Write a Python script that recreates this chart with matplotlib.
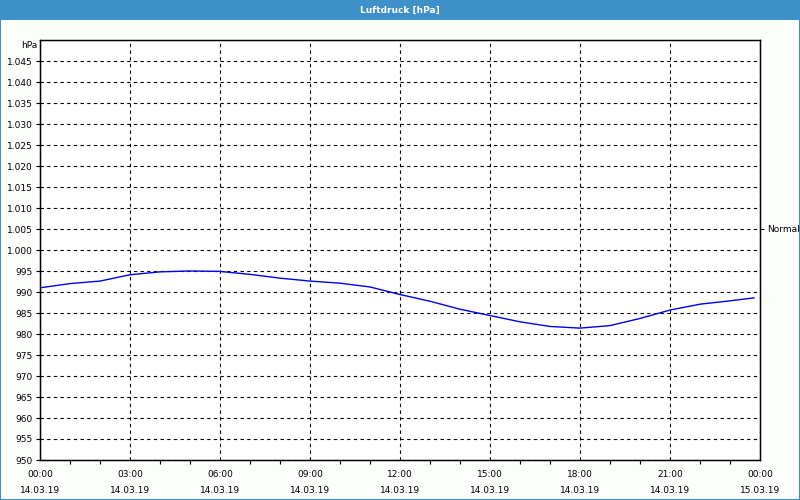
import matplotlib
matplotlib.use("Agg")
import matplotlib.pyplot as plt
from matplotlib.patches import Rectangle
import numpy as np

# Luftdruck-Verlauf 14.03.19 (Stunde -> hPa)
hours = [0, 1, 2, 3, 4, 5, 6, 7, 8, 9, 10, 11, 12, 13, 14, 15, 16, 17, 18, 19, 20, 21, 22, 23, 23.8]
pressure = [991.0, 992.0, 992.6, 994.1, 994.8, 995.0, 994.9, 994.2, 993.3, 992.6, 992.1, 991.2,
            989.4, 987.8, 985.9, 984.4, 982.9, 981.8, 981.4, 982.0, 983.7, 985.7, 987.1, 987.9, 988.6]

x_ticks = [0, 3, 6, 9, 12, 15, 18, 21, 24]
x_labels = ["00:00\n14.03.19", "03:00\n14.03.19", "06:00\n14.03.19", "09:00\n14.03.19",
            "12:00\n14.03.19", "15:00\n14.03.19", "18:00\n14.03.19", "21:00\n14.03.19",
            "00:00\n15.03.19"]
y_ticks = list(range(950, 1050, 5))
normal_level = 1005

title_blue = "#3d91c8"
fs = 6.5
fig = plt.figure(figsize=(8, 5), dpi=100, facecolor="#fcfefc")
plt.rcParams["font.family"] = ["DejaVu Sans"]

# Titelleiste und Rahmen
fig.patches.append(Rectangle((0, 0.96), 1, 0.04, transform=fig.transFigure,
                             facecolor=title_blue, edgecolor="none", zorder=0))
fig.patches.append(Rectangle((0.0006, 0.001), 0.9988, 0.998, transform=fig.transFigure,
                             facecolor="none", edgecolor=title_blue, linewidth=1.5, zorder=1))
fig.text(0.5, 0.98, "Luftdruck [hPa]", ha="center", va="center", color="white",
         fontsize=fs, fontweight="bold")

ax = fig.add_axes([40 / 800, 40 / 500, 720 / 800, 420 / 500])
ax.set_facecolor("white")
ax.plot(hours, pressure, color="#0000ee", linewidth=1)

ax.set_xlim(0, 24)
ax.set_ylim(950, 1050)
ax.set_xticks(x_ticks)
ax.set_xticklabels(x_labels, fontsize=fs, linespacing=2.1)
ax.set_xticks(range(0, 25), minor=True)
ax.set_yticks(y_ticks)
ax.set_yticklabels([f"{v:,}".replace(",", ".") for v in y_ticks], fontsize=fs)
ax.tick_params(axis="x", which="major", length=0, pad=7)
ax.tick_params(axis="x", which="minor", length=3, width=0.8, direction="out")
ax.tick_params(axis="y", length=3, width=0.8, pad=2)
ax.grid(True, which="major", color="black", linestyle=(0, (3, 3)), linewidth=0.8)
for s in ax.spines.values():
    s.set_linewidth(1.0)
ax.text(-0.004, 0.997, "hPa", transform=ax.transAxes, ha="right", va="top", fontsize=fs)

ax2 = ax.twinx()
ax2.set_ylim(950, 1050)
ax2.set_yticks([normal_level])
ax2.set_yticklabels(["Normal"], fontsize=fs)
ax2.tick_params(axis="y", length=3, width=0.8, pad=2)

fig.savefig("out.png", dpi=100, facecolor=fig.get_facecolor())
